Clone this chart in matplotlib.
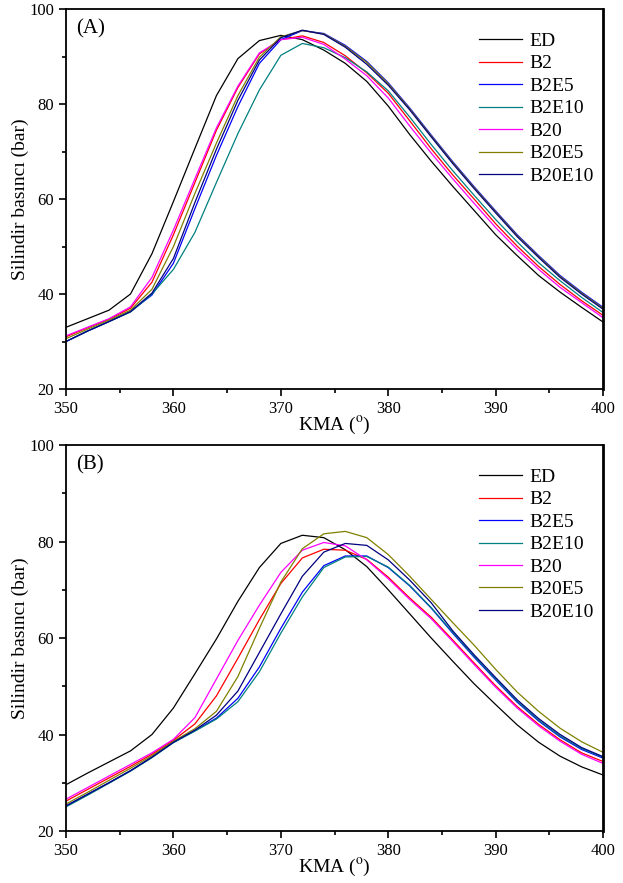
# Silindir basıncı - KMA grafiği (A) ve (B)

import matplotlib
matplotlib.use('Agg')
import matplotlib.pyplot as plt
import numpy as np

plt.rcParams['font.family'] = 'Liberation Serif'
plt.rcParams['mathtext.fontset'] = 'stix'

kma = np.arange(350, 401, 2)

etiketler = ['ED', 'B2', 'B2E5', 'B2E10', 'B20', 'B20E5', 'B20E10']
renkler = ['black', 'red', 'blue', 'teal', 'magenta', 'olive', 'navy']

# (A)
a_ed     = [33.0, 34.8, 36.6, 40.0, 48.5, 59.5, 70.7, 81.8, 89.6, 93.4, 94.5, 93.6, 91.4, 88.6, 84.8, 79.6, 73.6, 68.0, 62.7, 57.6, 52.5, 48.1, 43.9, 40.4, 37.2, 34.1]
a_b2     = [31.0, 32.9, 34.7, 37.0, 42.5, 52.5, 63.5, 74.5, 83.5, 90.6, 93.6, 94.4, 93.0, 90.2, 86.6, 82.3, 76.5, 70.6, 65.1, 60.0, 54.8, 50.1, 45.8, 42.0, 38.6, 35.5]
a_b2e5   = [30.0, 32.2, 34.2, 36.3, 39.8, 46.5, 58.0, 69.2, 79.5, 88.6, 93.6, 95.5, 94.9, 92.4, 89.0, 84.5, 79.2, 73.5, 67.9, 62.6, 57.5, 52.5, 48.1, 43.9, 40.4, 37.2]
a_b2e10  = [30.0, 32.2, 34.2, 36.2, 40.0, 45.2, 53.0, 63.5, 73.8, 83.0, 90.3, 92.8, 91.9, 89.8, 86.8, 82.8, 77.3, 71.5, 66.0, 60.8, 55.7, 51.0, 46.6, 42.8, 39.3, 36.1]
a_b20    = [31.2, 33.0, 34.8, 37.3, 43.5, 53.5, 64.3, 75.0, 83.8, 90.8, 93.6, 94.1, 92.6, 89.5, 86.0, 81.3, 75.4, 69.7, 64.3, 59.1, 54.0, 49.4, 45.2, 41.4, 38.2, 35.0]
a_b20e5  = [30.6, 32.6, 34.5, 36.6, 41.0, 50.0, 61.2, 71.8, 81.8, 89.9, 94.2, 95.5, 94.8, 92.2, 88.8, 84.3, 79.0, 73.3, 67.7, 62.4, 57.3, 52.3, 47.9, 43.7, 40.2, 37.0]
a_b20e10 = [30.0, 32.2, 34.2, 36.3, 40.2, 47.5, 59.3, 70.5, 80.8, 89.3, 94.0, 95.6, 94.7, 92.0, 88.4, 84.0, 78.8, 73.1, 67.5, 62.2, 57.1, 52.1, 47.7, 43.5, 40.0, 36.8]

# (B)
b_ed     = [29.6, 32.0, 34.3, 36.6, 40.0, 45.5, 52.6, 59.8, 67.6, 74.6, 79.6, 81.3, 80.8, 78.3, 74.8, 70.0, 65.0, 60.0, 55.2, 50.5, 46.2, 42.0, 38.4, 35.5, 33.3, 31.6]
b_b2     = [26.2, 28.6, 31.0, 33.4, 35.9, 38.8, 42.2, 48.0, 55.8, 63.8, 71.3, 76.6, 78.4, 78.2, 76.3, 72.6, 68.3, 64.3, 59.6, 54.8, 50.1, 45.8, 42.1, 38.9, 36.2, 34.4]
b_b2e5   = [25.2, 27.6, 30.0, 32.5, 35.3, 38.4, 40.8, 43.4, 47.5, 54.0, 62.0, 69.5, 75.0, 77.0, 77.0, 74.6, 70.8, 66.2, 61.0, 56.0, 51.3, 46.7, 42.8, 39.5, 36.9, 35.1]
b_b2e10  = [25.0, 27.4, 29.9, 32.4, 35.2, 38.3, 40.7, 43.2, 46.8, 53.0, 61.0, 68.5, 74.6, 76.8, 76.9, 74.7, 70.9, 66.3, 61.2, 56.2, 51.5, 46.9, 43.0, 39.7, 37.1, 35.3]
b_b20    = [26.6, 29.0, 31.4, 33.8, 36.2, 39.0, 43.5, 51.5, 59.5, 66.8, 73.6, 78.2, 79.8, 79.1, 76.2, 72.3, 68.0, 64.0, 59.3, 54.5, 49.8, 45.5, 41.8, 38.6, 35.9, 34.0]
b_b20e5  = [25.6, 28.0, 30.5, 33.0, 35.6, 38.6, 41.2, 44.8, 52.0, 62.0, 71.6, 78.5, 81.6, 82.1, 80.8, 77.3, 72.8, 68.0, 63.2, 58.5, 53.5, 48.8, 44.8, 41.3, 38.5, 36.3]
b_b20e10 = [25.2, 27.6, 30.0, 32.5, 35.3, 38.4, 40.9, 44.0, 49.0, 57.0, 65.0, 72.8, 77.8, 79.6, 79.2, 76.2, 72.0, 67.3, 61.5, 56.5, 51.8, 47.2, 43.3, 40.0, 37.3, 35.4]

seriler_a = [a_ed, a_b2, a_b2e5, a_b2e10, a_b20, a_b20e5, a_b20e10]
seriler_b = [b_ed, b_b2, b_b2e5, b_b2e10, b_b20, b_b20e5, b_b20e10]

fig = plt.figure(figsize=(6.23, 8.83), dpi=100)
ax1 = fig.add_axes([0.106, 0.5595, 0.862, 0.43])
ax2 = fig.add_axes([0.106, 0.0589, 0.862, 0.4371])

for ax, seriler, harf in [(ax1, seriler_a, '(A)'), (ax2, seriler_b, '(B)')]:
    for y, renk, etiket in zip(seriler, renkler, etiketler):
        ax.plot(kma, y, color=renk, lw=0.9, label=etiket)
    ax.set_xlim(350, 400)
    ax.set_ylim(20, 100)
    ax.set_xticks(np.arange(350, 401, 10))
    ax.set_xticks(np.arange(355, 400, 10), minor=True)
    ax.set_yticks(np.arange(20, 101, 20))
    ax.set_yticks(np.arange(30, 100, 20), minor=True)
    ax.tick_params(which='both', direction='out', labelsize=12, width=1.2)
    ax.tick_params(which='major', length=5)
    ax.tick_params(which='minor', length=3)
    for s in ax.spines.values():
        s.set_linewidth(1.3)
    ax.spines['right'].set_linewidth(2)
    ax.set_xlabel('KMA ($^{\\mathrm{o}}$)', fontsize=14, labelpad=-2)
    ax.set_ylabel('Silindir basıncı (bar)', fontsize=14, labelpad=0)
    ax.text(0.018, 0.948, harf, transform=ax.transAxes, fontsize=15, va='center')
    ax.legend(loc='upper left', bbox_to_anchor=(0.744, 0.975), frameon=False,
              fontsize=14, handlelength=2.2, labelspacing=0.25, handletextpad=0.4,
              borderpad=0.2)

plt.savefig('out.png', dpi=100)
